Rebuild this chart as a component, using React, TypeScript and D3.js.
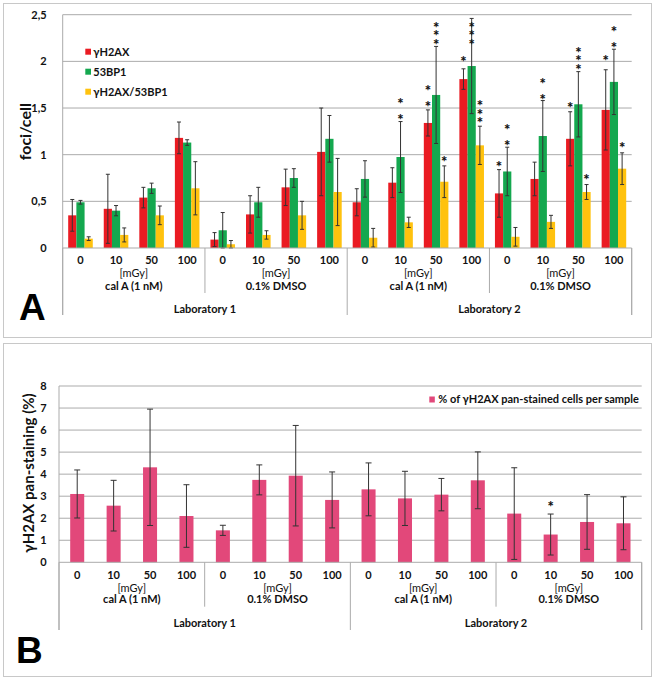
import React from 'react';
import * as d3 from 'd3';

// ---------- data ----------
const doses = ['0', '10', '50', '100'];
const treatments = ['cal A (1 nM)', '0.1% DMSO', 'cal A (1 nM)', '0.1% DMSO'];
const labs = ['Laboratory 1', 'Laboratory 2'];
const seriesA = ['γH2AX', '53BP1', 'γH2AX/53BP1'];

const h2axMean = [0.35, 0.42, 0.54, 1.18, 0.09, 0.36, 0.65, 1.03, 0.49, 0.70, 1.34, 1.81, 0.585, 0.74, 1.17, 1.48];
const h2axErr = [0.17, 0.37, 0.11, 0.17, 0.075, 0.2, 0.195, 0.47, 0.145, 0.16, 0.14, 0.11, 0.255, 0.18, 0.29, 0.43];
const bp1Mean = [0.49, 0.40, 0.64, 1.13, 0.19, 0.49, 0.75, 1.17, 0.74, 0.975, 1.64, 1.95, 0.82, 1.20, 1.54, 1.78];
const bp1Err = [0.02, 0.055, 0.055, 0.03, 0.19, 0.16, 0.10, 0.25, 0.195, 0.38, 0.52, 0.51, 0.26, 0.38, 0.35, 0.35];
const coMean = [0.10, 0.14, 0.35, 0.64, 0.04, 0.14, 0.35, 0.60, 0.11, 0.275, 0.71, 1.10, 0.12, 0.28, 0.60, 0.85];
const coErr = [0.02, 0.075, 0.10, 0.285, 0.04, 0.045, 0.15, 0.36, 0.10, 0.055, 0.17, 0.205, 0.10, 0.07, 0.08, 0.17];

// significance stars: [category index, number of stars, level (foci/cell) of lowest star]
const h2axStars: [number, number, number][] = [[10, 2, 1.55], [11, 1, 2.03], [12, 1, 0.907], [14, 1, 1.54], [15, 1, 2.04]];
const bp1Stars: [number, number, number][] = [[9, 2, 1.414], [10, 3, 2.22], [11, 3, 2.22], [12, 2, 1.13], [13, 2, 1.63], [14, 3, 1.95], [15, 2, 2.18]];
const coStars: [number, number, number][] = [[10, 1, 0.96], [11, 3, 1.38], [14, 1, 0.764], [15, 1, 1.11]];

const ticksA = [0, 0.5, 1, 1.5, 2, 2.5];

const panSeries = '% of γH2AX pan-stained cells per sample';
const panMean = [3.10, 2.57, 4.31, 2.10, 1.45, 3.74, 3.93, 2.83, 3.31, 2.90, 3.07, 3.72, 2.21, 1.26, 1.83, 1.77];
const panErr = [1.09, 1.15, 2.64, 1.42, 0.23, 0.68, 2.28, 1.27, 1.20, 1.23, 0.735, 1.29, 2.08, 0.93, 1.24, 1.20];
const panStars: [number, number, number][] = [[13, 1, 2.68]];
const ticksB = [0, 1, 2, 3, 4, 5, 6, 7, 8];

// ---------- styles ----------
const FONT = 'Lato, "Open Sans", sans-serif';
const FS = 11;
const RED = '#ea1b22';
const GREEN = '#14a84f';
const YELLOW = '#ffc20e';
const PINK = '#e2487a';
const GRID = '#ababab';
const ERR = '#333333';

const cats = d3.range(16);

type Cfg = {
  left: number; right: number; top: number; bottom: number;
  groupDepth: number; labDepth: number;
  tickY: number; unitY: number; groupY: number; labY: number;
};

function CategoryAxis({ x, c }: { x: d3.ScaleBand<number>; c: Cfg }) {
  const bw = x.bandwidth();
  const bounds = [0, 4, 8, 12, 16];
  return (
    <g fontFamily={FONT} fontWeight="bold" fontSize={FS} fill="#111" textAnchor="middle">
      <line x1={c.left} x2={c.right} y1={c.bottom} y2={c.bottom} stroke={GRID} />
      {bounds.map((b) => {
        const xx = b === 16 ? c.right : (x(b) as number);
        const isLab = b % 8 === 0;
        return (
          <line key={'s' + b} x1={xx} x2={xx} y1={c.bottom} y2={isLab ? c.labDepth : c.groupDepth} stroke={GRID} />
        );
      })}
      {cats.map((i) => (
        <text key={'t' + i} x={(x(i) as number) + bw / 2} y={c.tickY}>{doses[i % 4]}</text>
      ))}
      {treatments.map((t, g) => {
        const cx = (x(g * 4) as number) + 2 * bw;
        return (
          <g key={'g' + g}>
            <text x={cx} y={c.unitY} fontWeight="normal">[mGy]</text>
            <text x={cx} y={c.groupY}>{t}</text>
          </g>
        );
      })}
      {labs.map((l, k) => (
        <text key={'l' + k} x={(x(k * 8) as number) + 4 * bw} y={c.labY}>{l}</text>
      ))}
    </g>
  );
}

function Stars({ list, xc, y, size }: { list: [number, number, number][]; xc: (i: number) => number; y: d3.ScaleLinear<number, number>; size: number }) {
  return (
    <g fontFamily={FONT} fontWeight="900" fontSize={size} textAnchor="middle" fill="#111">
      {list.map(([i, n, lvl]) => {
        const spacing = n === 3 ? 8.3 : 16;
        const base = y(lvl) + size * 0.58;
        return (
          <text key={i} x={xc(i)} y={base - (n - 1) * spacing}>
            {d3.range(n).map((k) => (
              <tspan key={k} x={xc(i)} y={base - (n - 1 - k) * spacing}>*</tspan>
            ))}
          </text>
        );
      })}
    </g>
  );
}

function PanelA() {
  const c: Cfg = { left: 62.7, right: 631.7, top: 14.7, bottom: 248, groupDepth: 293, labDepth: 315, tickY: 264, unitY: 277, groupY: 290, labY: 313 };
  const y = d3.scaleLinear().domain([0, 2.5]).range([c.bottom, c.top]);
  const x = d3.scaleBand<number>().domain(cats).range([c.left, c.right]);
  const xs = d3.scaleBand<string>().domain(seriesA).range([0, x.bandwidth()]).paddingInner(0).paddingOuter(0.67);
  const means = [h2axMean, bp1Mean, coMean];
  const errs = [h2axErr, bp1Err, coErr];
  const colors = [RED, GREEN, YELLOW];
  const stars = [h2axStars, bp1Stars, coStars];
  const bw = xs.bandwidth();
  return (
    <g>
      <rect x={3.5} y={3.5} width={648} height={334} fill="#fff" stroke="#c8c8c8" />
      {ticksA.map((t) => (
        <g key={t}>
          {t > 0 && <line x1={c.left} x2={c.right} y1={y(t)} y2={y(t)} stroke={GRID} />}
          <text x={46.7} y={y(t) + 4} textAnchor="end" fontFamily={FONT} fontWeight="bold" fontSize={FS} fill="#111">
            {String(t).replace('.', ',')}
          </text>
        </g>
      ))}
      <line x1={c.left} x2={c.left} y1={c.top} y2={c.labDepth} stroke={GRID} />
      <line x1={c.right} x2={c.right} y1={c.bottom} y2={c.labDepth} stroke={GRID} />
      {seriesA.map((s, si) => (
        <g key={s}>
          {cats.map((i) => {
            const x0 = (x(i) as number) + (xs(s) as number);
            const m = means[si][i];
            const e = errs[si][i];
            const cx = x0 + bw / 2;
            const lo = Math.max(0, m - e);
            return (
              <g key={i}>
                <rect x={x0} y={y(m)} width={bw} height={y(0) - y(m)} fill={colors[si]} />
                <line x1={cx} x2={cx} y1={y(m + e)} y2={y(lo)} stroke={ERR} strokeWidth={1} />
                <line x1={cx - 2} x2={cx + 2} y1={y(m + e)} y2={y(m + e)} stroke={ERR} />
                <line x1={cx - 2} x2={cx + 2} y1={y(lo)} y2={y(lo)} stroke={ERR} />
              </g>
            );
          })}
          <Stars list={stars[si]} xc={(i) => (x(i) as number) + (xs(s) as number) + bw / 2} y={y} size={15} />
        </g>
      ))}
      <CategoryAxis x={x} c={c} />
      <text x={25} y={131.7} transform="rotate(-90 25 131.7)" textAnchor="middle" dominantBaseline="central" fontFamily={FONT} fontWeight="bold" fontSize={16} fill="#111">foci/cell</text>
      {seriesA.map((s, si) => (
        <g key={'lg' + s}>
          <rect x={85.3} y={51.7 + si * 20 - 3} width={5.7} height={6} fill={colors[si]} />
          <text x={93.3} y={51.7 + si * 20 + 4} fontFamily={FONT} fontWeight="bold" fontSize={FS} fill="#111">{s}</text>
        </g>
      ))}
      <text x={19} y={320} fontFamily="'Liberation Sans', Arial, sans-serif" fontWeight="bold" fontSize={37} fill="#000">A</text>
    </g>
  );
}

function PanelB() {
  const c: Cfg = { left: 59, right: 641.7, top: 386, bottom: 562.3, groupDepth: 606.7, labDepth: 630, tickY: 579, unitY: 592, groupY: 603, labY: 626.5 };
  const y = d3.scaleLinear().domain([0, 8]).range([c.bottom, c.top]);
  const x = d3.scaleBand<number>().domain(cats).range([c.left, c.right]);
  const bwc = x.bandwidth();
  const bw = bwc * 0.385;
  return (
    <g>
      <rect x={3.5} y={343.5} width={648} height={333} fill="#fff" stroke="#c8c8c8" />
      {ticksB.map((t) => (
        <g key={t}>
          {t > 0 && <line x1={c.left} x2={c.right} y1={y(t)} y2={y(t)} stroke={GRID} />}
          <text x={46.7} y={y(t) + 4} textAnchor="end" fontFamily={FONT} fontWeight="bold" fontSize={FS} fill="#111">{t}</text>
        </g>
      ))}
      <line x1={c.left} x2={c.left} y1={c.top} y2={c.labDepth} stroke={GRID} />
      <line x1={c.right} x2={c.right} y1={c.bottom} y2={c.labDepth} stroke={GRID} />
      {cats.map((i) => {
        const cx = (x(i) as number) + bwc / 2;
        const m = panMean[i];
        const e = panErr[i];
        const lo = Math.max(0, m - e);
        return (
          <g key={i}>
            <rect x={cx - bw / 2} y={y(m)} width={bw} height={y(0) - y(m)} fill={PINK} />
            <line x1={cx} x2={cx} y1={y(m + e)} y2={y(lo)} stroke={ERR} />
            <line x1={cx - 3} x2={cx + 3} y1={y(m + e)} y2={y(m + e)} stroke={ERR} />
            <line x1={cx - 3} x2={cx + 3} y1={y(lo)} y2={y(lo)} stroke={ERR} />
          </g>
        );
      })}
      <Stars list={panStars} xc={(i) => (x(i) as number) + bwc / 2} y={y} size={15} />
      <CategoryAxis x={x} c={c} />
      <text x={28} y={473} transform="rotate(-90 28 473)" textAnchor="middle" dominantBaseline="central" fontFamily={FONT} fontWeight="bold" fontSize={15} fill="#111">γH2AX pan-staining (%)</text>
      <rect x={429.3} y={396.5} width={5.5} height={6} fill={PINK} />
      <text x={438.3} y={403} fontFamily={FONT} fontWeight="bold" fontSize={FS} fill="#111">{panSeries}</text>
      <text x={16} y={663} fontFamily="'Liberation Sans', Arial, sans-serif" fontWeight="bold" fontSize={37} fill="#000">B</text>
    </g>
  );
}

export default function App() {
  return (
    <svg width={656} height={680} style={{ position: 'absolute', left: 0, top: 0, background: '#fff' }}>
      <rect x={0} y={0} width={656} height={680} fill="#fff" />
      <PanelA />
      <PanelB />
    </svg>
  );
}
